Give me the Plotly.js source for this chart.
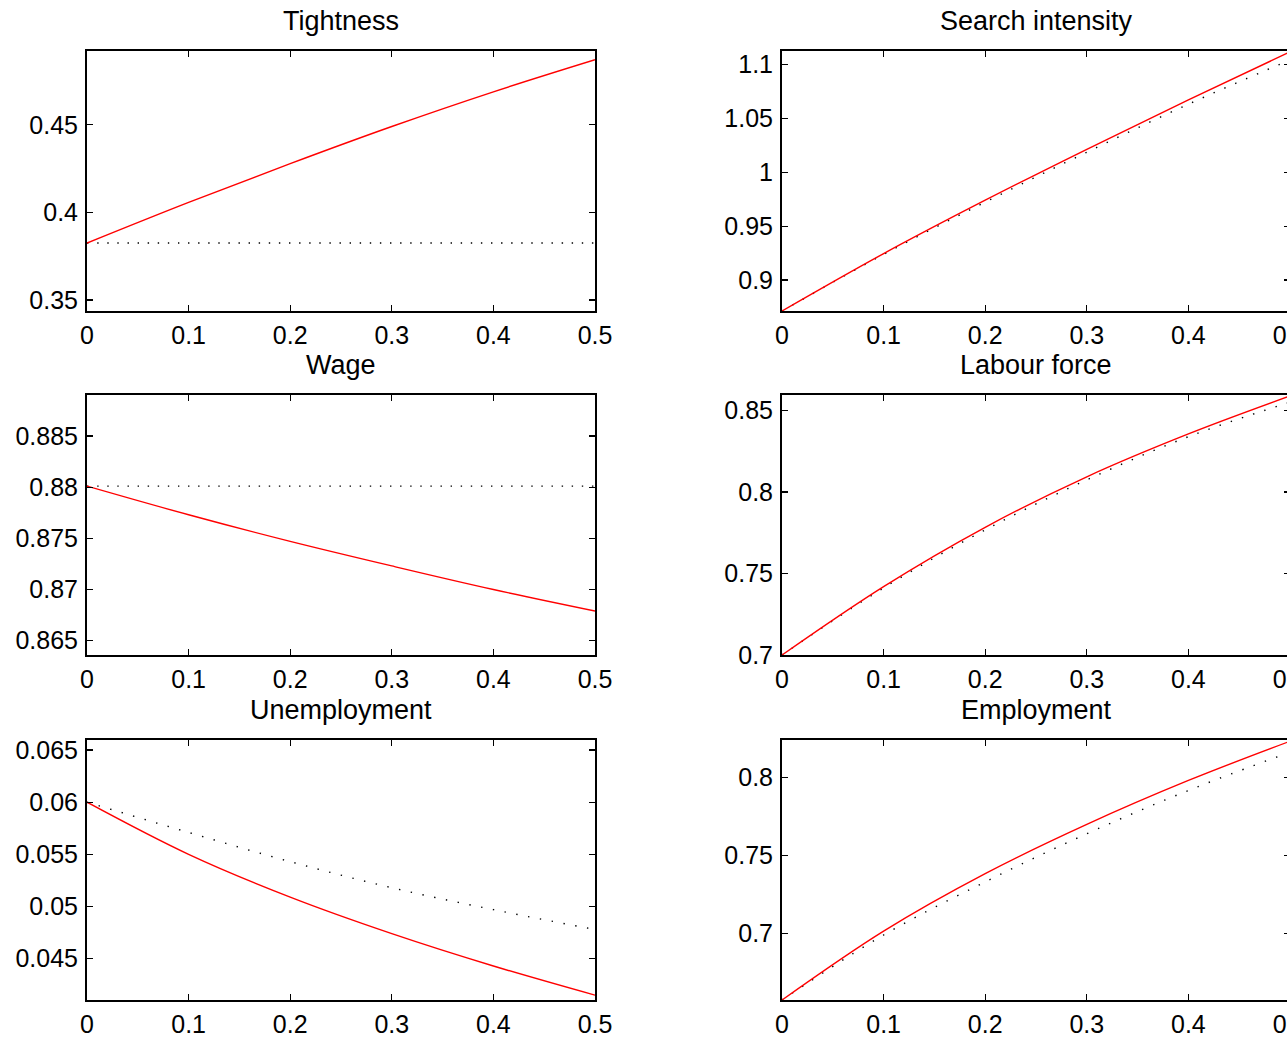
<!DOCTYPE html>
<html>
<head>
<meta charset="utf-8">
<script src="https://cdn.plot.ly/plotly-3.0.1.min.js"></script>
<style>
  html, body { margin: 0; padding: 0; overflow: hidden; background: #fff; }
  #chart { width: 1300px; height: 1040px; }
</style>
</head>
<body>
<div id="chart"></div>
<script>
// ---- data ----
const xs = [0, 0.1, 0.2, 0.3, 0.4, 0.5];
const xTickVals = [0, 0.1, 0.2, 0.3, 0.4, 0.5];
const xTickText = ['0', '0.1', '0.2', '0.3', '0.4', '0.5'];

const titles = ['Tightness', 'Search intensity', 'Wage', 'Labour force', 'Unemployment', 'Employment'];

const tightnessRed = [0.3825, 0.4057, 0.4278, 0.4490, 0.4688, 0.4871];
const tightnessDot = [0.3825, 0.3825, 0.3825, 0.3825, 0.3825, 0.3825];

const searchRed = [0.8713, 0.9245, 0.9740, 1.0212, 1.0670, 1.1115];
const searchDot = [0.8713, 0.9238, 0.9722, 1.0185, 1.0630, 1.1040];

const wageRed = [0.8801, 0.8773, 0.8747, 0.8723, 0.8700, 0.8679];
const wageDot = [0.8801, 0.8801, 0.8801, 0.8801, 0.8801, 0.8801];

const labourRed = [0.7000, 0.7420, 0.7784, 0.8094, 0.8357, 0.8590];
const labourDot = [0.7000, 0.7412, 0.7768, 0.8075, 0.8340, 0.8552];

const unempRed = [0.0600, 0.0550, 0.0509, 0.0474, 0.0443, 0.0415];
const unempDot = [0.0600, 0.0571, 0.0543, 0.0518, 0.0497, 0.0478];

const employRed = [0.6574, 0.7015, 0.7383, 0.7698, 0.7979, 0.8230];
const employDot = [0.6574, 0.6990, 0.7330, 0.7638, 0.7915, 0.8160];

const yRanges = [
  [0.3437, 0.4921],
  [0.8713, 1.1123],
  [0.8636, 0.8890],
  [0.7000, 0.8596],
  [0.04104, 0.06596],
  [0.6574, 0.8238]
];
const yTickVals = [
  [0.35, 0.4, 0.45],
  [0.9, 0.95, 1, 1.05, 1.1],
  [0.865, 0.87, 0.875, 0.88, 0.885],
  [0.7, 0.75, 0.8, 0.85],
  [0.045, 0.05, 0.055, 0.06, 0.065],
  [0.7, 0.75, 0.8]
];
const yTickText = [
  ['0.35', '0.4', '0.45'],
  ['0.9', '0.95', '1', '1.05', '1.1'],
  ['0.865', '0.87', '0.875', '0.88', '0.885'],
  ['0.7', '0.75', '0.8', '0.85'],
  ['0.045', '0.05', '0.055', '0.06', '0.065'],
  ['0.7', '0.75', '0.8']
];

const redSeries = [tightnessRed, searchRed, wageRed, labourRed, unempRed, employRed];
const dotSeries = [tightnessDot, searchDot, wageDot, labourDot, unempDot, employDot];
const dotDash = ['1.4px,8.7px', '1.4px,10.4px', '1.4px,8.7px', '1.4px,10.4px', '1.4px,10.6px', '1.4px,10.6px'];

// ---- layout geometry (pixels) ----
const W = 1300, H = 1040;
const colX = [[87, 595], [782, 1290]];
const rowY = [[51, 311], [395, 655], [740, 1000]];

const FONT = 'Liberation Sans, Arial, Helvetica, sans-serif';

const traces = [];
const layout = {
  width: W, height: H,
  margin: {l: 0, r: 0, t: 0, b: 0, pad: 0},
  paper_bgcolor: '#ffffff',
  plot_bgcolor: '#ffffff',
  showlegend: false,
  font: {family: FONT, size: 25, color: '#000000'},
  annotations: []
};

for (let i = 0; i < 6; i++) {
  const r = Math.floor(i / 2), c = i % 2;
  const n = i === 0 ? '' : String(i + 1);
  const xa = 'x' + n, ya = 'y' + n;

  traces.push({
    x: xs, y: dotSeries[i], xaxis: xa, yaxis: ya, type: 'scatter', mode: 'lines',
    line: {color: '#000000', width: 1.4, dash: dotDash[i], shape: 'spline', smoothing: 1},
    hoverinfo: 'skip'
  });
  traces.push({
    x: xs, y: redSeries[i], xaxis: xa, yaxis: ya, type: 'scatter', mode: 'lines',
    line: {color: '#ff0000', width: 1.4, shape: 'spline', smoothing: 1},
    hoverinfo: 'skip'
  });

  const common = {
    showline: true, linecolor: '#000000', linewidth: 2, mirror: 'ticks',
    ticks: 'inside', ticklen: 6, tickwidth: 1.2, tickcolor: '#000000',
    showgrid: false, zeroline: false, fixedrange: true,
    ticklabeloverflow: 'allow',
    tickfont: {family: FONT, size: 25, color: '#000000'}
  };
  layout['xaxis' + n] = Object.assign({}, common, {
    domain: [colX[c][0] / W, colX[c][1] / W],
    range: [0, 0.5], anchor: ya,
    tickmode: 'array', tickvals: xTickVals, ticktext: xTickText,
    ticklabelstandoff: 1
  });
  layout['yaxis' + n] = Object.assign({}, common, {
    domain: [1 - rowY[r][1] / H, 1 - rowY[r][0] / H],
    range: yRanges[i], anchor: xa,
    tickmode: 'array', tickvals: yTickVals[i], ticktext: yTickText[i],
    ticklabelstandoff: 2
  });

  layout.annotations.push({
    text: titles[i], showarrow: false,
    xref: 'paper', yref: 'paper',
    x: (colX[c][0] + colX[c][1]) / 2 / W,
    y: 1 - (rowY[r][0] - 30) / H,
    xanchor: 'center', yanchor: 'middle',
    font: {family: FONT, size: 27, color: '#000000'}
  });
}

Plotly.newPlot('chart', traces, layout, {staticPlot: true, displayModeBar: false});
</script>
</body>
</html>
